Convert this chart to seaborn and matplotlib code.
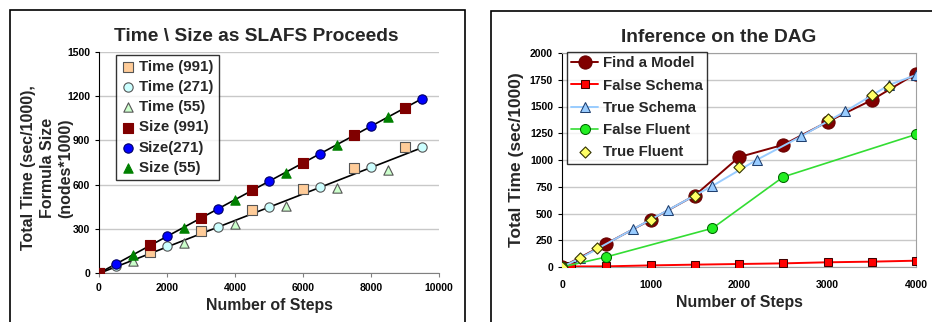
import matplotlib
matplotlib.use("Agg")
import matplotlib.pyplot as plt
import seaborn as sns
from matplotlib.patches import Rectangle

sns.set_style("white")
plt.rcParams["font.family"] = ["Liberation Sans", "DejaVu Sans"]
plt.rcParams["font.weight"] = "bold"

# -----------------------------
# Data: left panel (SLAFS)
# -----------------------------
steps_991 = [0, 1500, 3000, 4500, 6000, 7500, 9000]
steps_271 = [500, 2000, 3500, 5000, 6500, 8000, 9500]
steps_55 = [1000, 2500, 4000, 5500, 7000, 8500]

time_991 = [0, 142, 285, 425, 568, 710, 853]
time_271 = [45, 181, 312, 448, 584, 719, 855]
time_55 = [80, 206, 330, 455, 579, 701]

size_991 = [0, 190, 373, 563, 747, 937, 1120]
size_271 = [63, 251, 437, 624, 810, 998, 1183]
size_55 = [120, 305, 493, 681, 871, 1057]

left_ylabel_lines = ["Total Time (sec/1000),", "Formula Size", "(nodes*1000)"]

# -----------------------------
# Data: right panel (DAG)
# -----------------------------
model_x = [0, 500, 1000, 1500, 2000, 2500, 3000, 3500, 4000]
model_y = [0, 218, 440, 668, 1027, 1142, 1357, 1560, 1807]

fschema_x = [0, 100, 500, 1000, 1500, 2000, 2500, 3000, 3500, 4000]
fschema_y = [0, 5, 6, 15, 22, 28, 34, 44, 50, 59]

tschema_x = [0, 200, 800, 1200, 1700, 2200, 2700, 3200, 3700, 4000]
tschema_y = [0, 80, 352, 533, 758, 1001, 1220, 1454, 1703, 1794]

ffluent_x = [0, 500, 1700, 2500, 4000]
ffluent_y = [0, 94, 362, 842, 1239]

tfluent_x = [0, 200, 400, 1000, 1500, 2000, 3000, 3500, 3700]
tfluent_y = [3, 87, 178, 443, 668, 939, 1379, 1604, 1685]

fig = plt.figure(figsize=(9.32, 3.22), dpi=100)

# outer frames around each chart
fig.patches.append(Rectangle((10 / 932, -0.1), 455 / 932, 1 - 10 / 322 + 0.1,
                             transform=fig.transFigure, fill=False,
                             edgecolor="black", lw=1.2))
fig.patches.append(Rectangle((491 / 932, -0.1), 445 / 932, 1 - 11 / 322 + 0.1,
                             transform=fig.transFigure, fill=False,
                             edgecolor="black", lw=1.2))

ax1 = fig.add_axes([99 / 932, 49 / 322, 340 / 932, 221 / 322])
ax2 = fig.add_axes([562 / 932, 55 / 322, 354 / 932, 214 / 322])

# -----------------------------
# Left panel
# -----------------------------
all_steps_time = steps_991 + steps_271 + steps_55
all_time = time_991 + time_271 + time_55
all_steps_size = steps_991 + steps_271 + steps_55
all_size = size_991 + size_271 + size_55

sns.regplot(x=all_steps_size, y=all_size, scatter=False, ci=None, truncate=True,
            color="black", line_kws={"lw": 1.2, "zorder": 2}, ax=ax1)
sns.regplot(x=all_steps_time, y=all_time, scatter=False, ci=None, truncate=True,
            color="black", line_kws={"lw": 1.2, "zorder": 2}, ax=ax1)

left_series = [
    (steps_991, time_991, "Time (991)", "s", "#FFCC99", "#555555"),
    (steps_271, time_271, "Time (271)", "o", "#CCFFFF", "#555555"),
    (steps_55, time_55, "Time (55)", "^", "#CCFFCC", "#555555"),
    (steps_991, size_991, "Size (991)", "s", "#800000", "#800000"),
    (steps_271, size_271, "Size(271)", "o", "#0000FF", "#000066"),
    (steps_55, size_55, "Size (55)", "^", "#008000", "#008000"),
]
for xs, ys, lab, mk, fc, ec in left_series:
    sns.scatterplot(x=xs, y=ys, marker=mk, s=45, color=fc, edgecolor=ec,
                    linewidth=0.8, label=lab, zorder=3, ax=ax1)

ax1.set_xlim(0, 10000)
ax1.set_ylim(0, 1500)
ax1.set_xticks(range(0, 10001, 2000))
ax1.set_yticks(range(0, 1501, 300))
ax1.yaxis.grid(True, color="#C8C8C8", lw=1)
ax1.set_axisbelow(True)
for s in ["top", "right"]:
    ax1.spines[s].set_visible(False)
ax1.spines["left"].set_color("black")
ax1.spines["bottom"].set_color("#808080")
ax1.tick_params(axis="both", labelsize=7.5, length=3, direction="out",
                left=True, bottom=True, colors="black")
ax1.tick_params(axis="x", color="#808080", pad=4)
for t in ax1.get_xticklabels() + ax1.get_yticklabels():
    t.set_fontweight("bold")
ax1.set_title("Time \\ Size as SLAFS Proceeds", fontsize=13.8,
              fontweight="bold", pad=8, x=0.462)
ax1.set_xlabel("Number of Steps", fontsize=11.4, fontweight="bold", labelpad=4)
ax1.set_ylabel("")
# three-line y label, one text per line
for line, xpix in zip(left_ylabel_lines, [29, 47.5, 65.5]):
    fig.text(xpix / 932, 1 - 168 / 322, line, rotation=90, ha="center",
             va="center", fontsize=11.5, fontweight="bold")
leg1 = ax1.legend(loc="upper left", bbox_to_anchor=(0.04, 1.0),
                  frameon=True, fancybox=False, edgecolor="black",
                  prop={"weight": "bold", "size": 10.9}, handletextpad=0.2,
                  labelspacing=0.4, borderpad=0.35, handlelength=1.0,
                  borderaxespad=0.2)
leg1.get_frame().set_linewidth(1.0)

# -----------------------------
# Right panel
# -----------------------------
sns.lineplot(x=model_x, y=model_y, color="#800000", lw=1.4, marker="o",
             markersize=9.5, markerfacecolor="#800000", markeredgecolor="#660000",
             label="Find a Model", zorder=3, ax=ax2)
sns.lineplot(x=fschema_x, y=fschema_y, color="#FF0000", lw=1.4, marker="s",
             markersize=6, markerfacecolor="#FF0000", markeredgecolor="#400000",
             label="False Schema", zorder=4, ax=ax2)
sns.lineplot(x=tschema_x, y=tschema_y, color="#99CCFF", lw=1.4, marker="^",
             markersize=7, markerfacecolor="#99CCFF", markeredgecolor="#1F3F6F",
             label="True Schema", zorder=4, ax=ax2)
sns.lineplot(x=ffluent_x, y=ffluent_y, color="#33DD33", lw=1.2, marker="o",
             markersize=7.2, markerfacecolor="#22EE22", markeredgecolor="#006600",
             label="False Fluent", zorder=4, ax=ax2)
sns.scatterplot(x=tfluent_x, y=tfluent_y, marker="D", s=32, color="#FFFF66",
                edgecolor="#333300", linewidth=0.8, label="True Fluent",
                zorder=5, ax=ax2)

ax2.set_xlim(0, 4000)
ax2.set_ylim(0, 2000)
ax2.set_xticks(range(0, 4001, 1000))
ax2.set_yticks(range(0, 2001, 250))
ax2.yaxis.grid(True, color="#C8C8C8", lw=1)
ax2.set_axisbelow(True)
ax2.spines["left"].set_color("black")
for s in ["top", "right", "bottom"]:
    ax2.spines[s].set_color("#A0A0A0")
ax2.tick_params(axis="both", labelsize=7.5, length=3, direction="out",
                left=True, bottom=False, colors="black")
ax2.tick_params(axis="x", pad=6)
for t in ax2.get_xticklabels() + ax2.get_yticklabels():
    t.set_fontweight("bold")
ax2.set_title("Inference on the DAG", fontsize=13.8, fontweight="bold", pad=8,
              x=0.443)
ax2.set_xlabel("Number of Steps", fontsize=11.4, fontweight="bold", labelpad=4)
ax2.set_ylabel("Total Time (sec/1000)", fontsize=12.5, fontweight="bold",
               labelpad=4)
leg2 = ax2.legend(loc="upper left", bbox_to_anchor=(0.014, 1.005),
                  frameon=True, fancybox=False, edgecolor="black",
                  prop={"weight": "bold", "size": 10.8}, handletextpad=0.3,
                  labelspacing=0.55, borderpad=0.3, handlelength=1.8,
                  borderaxespad=0.0)
leg2.get_frame().set_linewidth(1.0)

fig.savefig("out.png", dpi=100)
plt.close(fig)
